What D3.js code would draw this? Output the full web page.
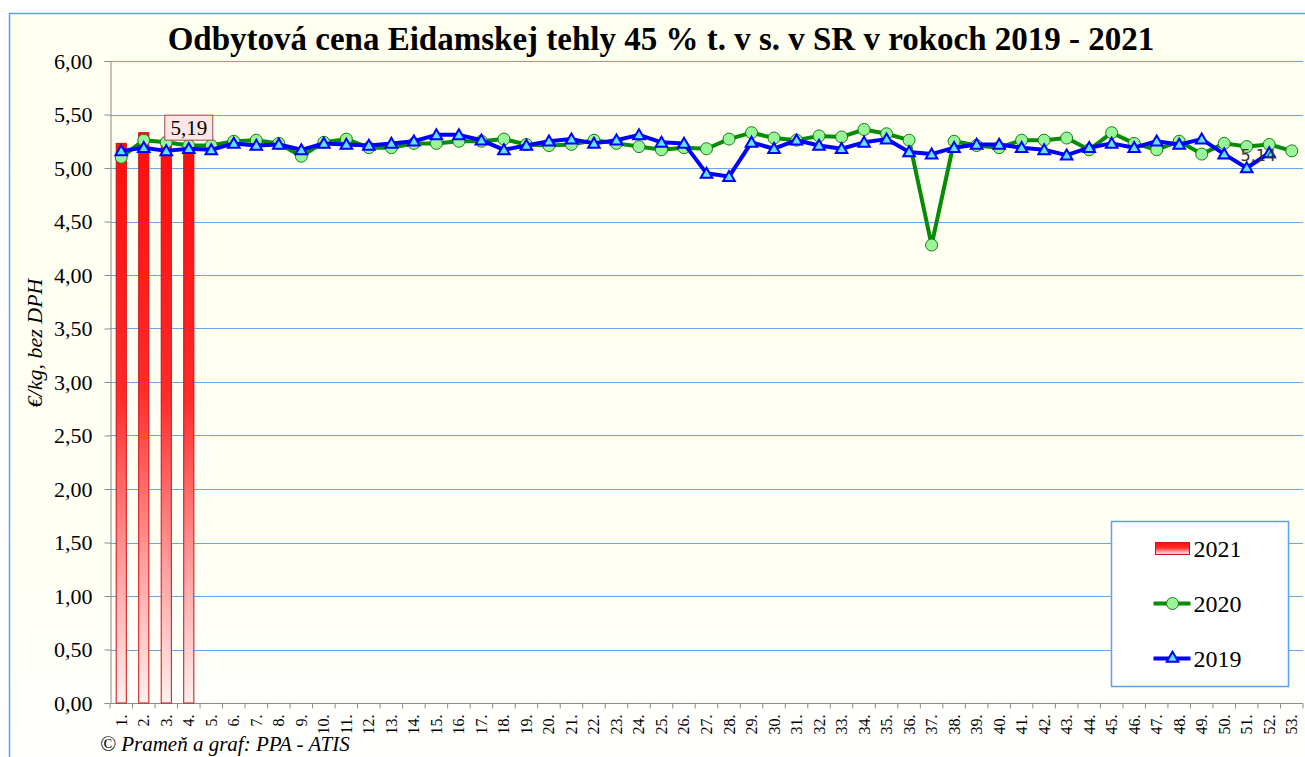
<!DOCTYPE html>
<html>
<head>
<meta charset="utf-8">
<script src="https://cdn.jsdelivr.net/npm/d3@7"></script>
<style>
   html, body { margin: 0; padding: 0; background: #fff; }
   svg { display: block; }
   text { font-family: "Liberation Serif", "Times New Roman", serif; }
</style>
</head>
<body>
<div id="chart"></div>
<script>
// Weeks of the year (categories)
const weeks = d3.range(1, 54);
const weekLabels = weeks.map(w => `${w}.`);

// Prices in EUR/kg without VAT
const price2021 = [5.23, 5.33, 5.22, 5.19];
const price2020 = [
   5.10, 5.26, 5.24, 5.21, 5.21, 5.25, 5.26, 5.23, 5.11, 5.24, 5.27, 5.19, 5.19,
   5.23, 5.23, 5.25, 5.25, 5.27, 5.22, 5.21, 5.22, 5.26, 5.23, 5.20, 5.17, 5.19,
   5.18, 5.27, 5.33, 5.28, 5.26, 5.30, 5.29, 5.36, 5.32, 5.26, 4.28, 5.25, 5.21,
   5.19, 5.26, 5.26, 5.28, 5.17, 5.33, 5.23, 5.17, 5.25, 5.13, 5.23, 5.20, 5.22, 5.16
];
const price2019 = [
   5.16, 5.19, 5.16, 5.18, 5.17, 5.23, 5.21, 5.22, 5.17, 5.23, 5.22, 5.21, 5.23,
   5.25, 5.31, 5.31, 5.26, 5.17, 5.21, 5.25, 5.27, 5.23, 5.26, 5.31, 5.24, 5.23,
   4.95, 4.92, 5.24, 5.18, 5.26, 5.21, 5.18, 5.24, 5.27, 5.15, 5.13, 5.19, 5.22,
   5.22, 5.19, 5.17, 5.12, 5.19, 5.23, 5.19, 5.25, 5.22, 5.27, 5.13, 5.00, 5.14
];
const yTicks = [0, 0.5, 1, 1.5, 2, 2.5, 3, 3.5, 4, 4.5, 5, 5.5, 6];

const width = 1305, height = 757;
const plot = { left: 110, right: 1303, top: 61, bottom: 703 };
const fmt = v => d3.format(".2f")(v).replace(".", ",");

const svg = d3.select("#chart").append("svg")
   .attr("width", width)
   .attr("height", height);

const defs = svg.append("defs");

// Chart background: ivory fading to white
const bg = defs.append("linearGradient")
   .attr("id", "bg-grad").attr("x1", 0).attr("y1", 0).attr("x2", 0).attr("y2", 1);
bg.append("stop").attr("offset", "0%").attr("stop-color", "#fffff0");
bg.append("stop").attr("offset", "70%").attr("stop-color", "#fffff4");
bg.append("stop").attr("offset", "100%").attr("stop-color", "#ffffff");

// Bar fill: red on top, pale pink at the bottom
const barGrad = defs.append("linearGradient")
   .attr("id", "bar-grad").attr("x1", 0).attr("y1", 0).attr("x2", 0).attr("y2", 1);
barGrad.append("stop").attr("offset", "0%").attr("stop-color", "#ff0d0d");
barGrad.append("stop").attr("offset", "45%").attr("stop-color", "#ff2a2a");
barGrad.append("stop").attr("offset", "75%").attr("stop-color", "#ff9c9c");
barGrad.append("stop").attr("offset", "100%").attr("stop-color", "#fff0f0");

svg.append("rect")
   .attr("x", 9.5).attr("y", 13.5)
   .attr("width", width).attr("height", height)
   .attr("fill", "url(#bg-grad)")
   .attr("stroke", "#5aa2f0")
   .attr("stroke-width", 1.5);

// Scales
const x = d3.scaleBand()
   .domain(weeks)
   .range([plot.left, plot.right])
   .padding(0);

const y = d3.scaleLinear()
   .domain([0, 6])
   .range([plot.bottom, plot.top]);

// Grid lines
svg.append("g")
   .selectAll("line")
   .data(yTicks.filter(t => t > 0))
   .join("line")
   .attr("x1", plot.left).attr("x2", plot.right)
   .attr("y1", d => Math.round(y(d)) + 0.5)
   .attr("y2", d => Math.round(y(d)) + 0.5)
   .attr("stroke", "#62a8ee")
   .attr("stroke-width", 1);

// Y axis
const yAxis = svg.append("g")
   .attr("transform", `translate(${plot.left + 0.5},0)`)
   .call(d3.axisLeft(y).tickValues(yTicks).tickFormat(fmt).tickSize(6).tickPadding(12));
yAxis.select(".domain").attr("stroke", "#8c8c8c");
yAxis.selectAll(".tick line").attr("stroke", "#8c8c8c");
yAxis.selectAll(".tick text")
   .attr("font-size", 22)
   .attr("fill", "#000");

// X axis: ticks between the categories
const xAxis = svg.append("g")
   .attr("transform", `translate(0,${plot.bottom + 0.5})`);
xAxis.append("line")
   .attr("x1", plot.left).attr("x2", plot.right)
   .attr("stroke", "#8c8c8c");
xAxis.selectAll(".xtick")
   .data(weeks.concat([null]))
   .join("line")
   .attr("class", "xtick")
   .attr("x1", d => d == null ? plot.right : x(d))
   .attr("x2", d => d == null ? plot.right : x(d))
   .attr("y1", 0).attr("y2", 5)
   .attr("stroke", "#8c8c8c");
xAxis.selectAll(".xlabel")
   .data(weeks)
   .join("text")
   .attr("class", "xlabel")
   .attr("transform", d => `translate(${x(d) + x.bandwidth() / 2 + 5.5},11) rotate(-90)`)
   .attr("text-anchor", "end")
   .attr("font-size", 16)
   .text((d, i) => weekLabels[i]);

// Bars 2021
const barW = x.bandwidth() * 0.45;
svg.append("g")
   .selectAll("rect")
   .data(price2021)
   .join("rect")
   .attr("x", (d, i) => x(weeks[i]) + (x.bandwidth() - barW) / 2)
   .attr("y", d => y(d))
   .attr("width", barW)
   .attr("height", d => y(0) - y(d))
   .attr("fill", "url(#bar-grad)")
   .attr("stroke", "#d01010")
   .attr("stroke-width", 1);

const cx = i => x(weeks[i]) + x.bandwidth() / 2;
const line = d3.line().x((d, i) => cx(i)).y(d => y(d));

// 2020 line with circles
svg.append("path")
   .datum(price2020)
   .attr("d", line)
   .attr("fill", "none")
   .attr("stroke", "#078c07")
   .attr("stroke-width", 4)
   .attr("stroke-linejoin", "round");
svg.append("g")
   .selectAll("circle")
   .data(price2020)
   .join("circle")
   .attr("cx", (d, i) => cx(i))
   .attr("cy", d => y(d))
   .attr("r", 6)
   .attr("fill", "#98f598")
   .attr("stroke", "#1a7a1a")
   .attr("stroke-width", 1);

// 2019 line with triangles
const tri = d3.symbol().type(d3.symbolTriangle).size(58);
svg.append("path")
   .datum(price2019)
   .attr("d", line)
   .attr("fill", "none")
   .attr("stroke", "#0000ff")
   .attr("stroke-width", 4)
   .attr("stroke-linejoin", "round");
svg.append("g")
   .selectAll("path")
   .data(price2019)
   .join("path")
   .attr("d", tri)
   .attr("transform", (d, i) => `translate(${cx(i)},${y(d) + 1})`)
   .attr("fill", "#5fe6ff")
   .attr("stroke", "#0000ff")
   .attr("stroke-width", 2);

// Data labels
const last21 = price2021.length - 1;
const lbl = svg.append("g")
   .attr("transform", `translate(${cx(last21)},${y(price2021[last21]) - 20})`);
lbl.append("rect")
   .attr("x", -24).attr("y", -12.5)
   .attr("width", 48).attr("height", 25)
   .attr("fill", "#fde6e6")
   .attr("stroke", "#a04848");
lbl.append("text")
   .attr("text-anchor", "middle")
   .attr("dy", "0.35em")
   .attr("font-size", 21)
   .text(fmt(price2021[last21]));

const last19 = price2019.length - 1;
svg.append("text")
   .attr("x", cx(last19) - 11)
   .attr("y", y(price2019[last19]) + 2)
   .attr("text-anchor", "middle")
   .attr("dy", "0.35em")
   .style("font-family", "'DejaVu Sans', sans-serif")
   .style("font-size", "16px")
   .attr("fill", "#333")
   .text(fmt(price2019[last19]));

// Title
svg.append("text")
   .attr("x", 661)
   .attr("y", 50)
   .attr("text-anchor", "middle")
   .attr("font-size", 33)
   .attr("font-weight", "bold")
   .text("Odbytová cena Eidamskej tehly 45 % t. v s. v SR v rokoch 2019 - 2021");

// Y axis title
svg.append("text")
   .attr("transform", "translate(42,343) rotate(-90)")
   .attr("text-anchor", "middle")
   .attr("font-style", "italic")
   .attr("font-size", 22)
   .text("€/kg, bez DPH");

// Source note
svg.append("text")
   .attr("x", 100)
   .attr("y", 751)
   .attr("font-style", "italic")
   .attr("font-size", 21)
   .text("© Prameň a graf: PPA - ATIS");

// Legend
const legend = svg.append("g").attr("transform", "translate(1111.5,521.5)");
legend.append("rect")
   .attr("width", 177).attr("height", 165)
   .attr("fill", "#fff")
   .attr("stroke", "#5aa2f0")
   .attr("stroke-width", 1.5);

const items = [
   { name: "2021", y: 27 },
   { name: "2020", y: 82 },
   { name: "2019", y: 137 }
];
legend.append("rect")
   .attr("x", 44).attr("y", items[0].y - 6)
   .attr("width", 34).attr("height", 12)
   .attr("fill", "url(#bar-grad)")
   .attr("stroke", "#d01010");
legend.append("line")
   .attr("x1", 42).attr("x2", 79)
   .attr("y1", items[1].y).attr("y2", items[1].y)
   .attr("stroke", "#078c07").attr("stroke-width", 4);
legend.append("circle")
   .attr("cx", 61).attr("cy", items[1].y).attr("r", 6)
   .attr("fill", "#98f598").attr("stroke", "#1a7a1a");
legend.append("line")
   .attr("x1", 42).attr("x2", 79)
   .attr("y1", items[2].y).attr("y2", items[2].y)
   .attr("stroke", "#0000ff").attr("stroke-width", 4);
legend.append("path")
   .attr("d", tri)
   .attr("transform", `translate(61,${items[2].y})`)
   .attr("fill", "#5fe6ff").attr("stroke", "#0000ff").attr("stroke-width", 2);
legend.selectAll(".ltext")
   .data(items)
   .join("text")
   .attr("class", "ltext")
   .attr("x", 82)
   .attr("y", d => d.y)
   .attr("dy", "0.35em")
   .attr("font-size", 24)
   .text(d => d.name);
</script>
</body>
</html>
